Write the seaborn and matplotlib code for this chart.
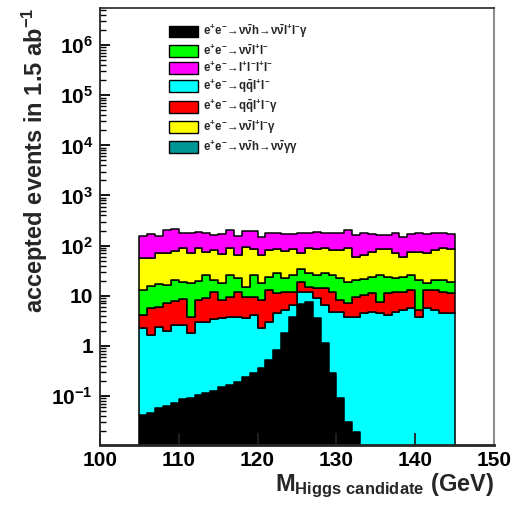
import numpy as np
import pandas as pd
import matplotlib
matplotlib.use("Agg")
import matplotlib.pyplot as plt
import seaborn as sns
from matplotlib.patches import Patch
from matplotlib.ticker import LogLocator, NullFormatter, FixedLocator, FixedFormatter

# ---------------- data (events per 1 GeV bin, 105-145 GeV) ----------------
mass_lo, mass_hi, n_bins = 105, 145, 40

signal_llg = [0.042, 0.046, 0.057, 0.063, 0.072, 0.087, 0.092, 0.105, 0.116, 0.127,
              0.153, 0.166, 0.193, 0.242, 0.291, 0.357, 0.522, 0.826, 1.78, 3.81,
              6.83, 7.49, 3.59, 1.14, 0.287, 0.091, 0.030, 0.019, 0, 0,
              0, 0, 0, 0, 0, 0, 0, 0, 0, 0]
qqll = [2.20, 1.59, 2.35, 1.94, 2.53, 2.51, 1.74, 2.93, 2.91, 3.25,
        3.39, 3.64, 3.52, 3.30, 3.83, 1.88, 2.51, 3.63, 3.41, 2.7,
        5.17, 4.51, 5.29, 5.39, 4.51, 4.71, 3.78, 3.79, 4.46, 4.80,
        4.46, 4.12, 4.80, 5.19, 5.61, 3.81, 5.61, 5.19, 4.46, 4.46]
qqllg = [1.88, 3.97, 3.46, 5.06, 5.24, 5.88, 1.98, 5.18, 5.85, 8.62,
         4.67, 5.48, 8.29, 5.75, 5.43, 5.97, 9.97, 6.74, 6.81, 5.5,
         7.0, 3.1, 5.12, 7.47, 7.2, 3.41, 3.25, 5.74, 5.84, 6.4,
         3.13, 7.08, 7.2, 6.81, 7.39, 1.38, 7.39, 7.81, 7.54, 6.74]
vvll = [8.9, 10.0, 11.2, 9.2, 12.8, 10.5, 14.4, 11.7, 17.0, 8.6,
        9.5, 16.6, 10.2, 5.8, 16.4, 9.5, 10.9, 16.8, 10.2, 13.9,
        14.6, 12.9, 11.9, 14.7, 13.9, 14.0, 11.9, 11.1, 10.9, 12.7,
        18.3, 12.7, 10.2, 11.9, 12.9, 15.4, 4.7, 7.6, 8.6, 7.8]
vvllg = [42.7, 40.1, 53.0, 53.8, 57.3, 71.7, 53.8, 68.3, 49.5, 60.9,
         50.2, 62.3, 42.6, 79.8, 58.3, 47.1, 57.6, 56.2, 56.8, 58.3,
         36.5, 60.2, 58.3, 59.5, 55.6, 59.3, 69.2, 39.4, 43.6, 51.5,
         58.3, 60.3, 47.9, 36.1, 49.5, 54.8, 52.4, 60.9, 67.6, 65.2]
llll = [99, 114, 85, 134, 133, 90, 109, 98, 101, 84,
        102, 116, 90, 103, 109, 85, 100, 92, 91, 86,
        106, 93, 105, 93, 95, 95, 116, 102, 116, 95,
        78, 78, 106, 90, 95, 101, 100, 100, 88, 86]
signal_gg = [0] * 40

# legend order (as in the reference)
processes = ["signal_llg", "vvll", "llll", "qqll", "qqllg", "vvllg", "signal_gg"]
labels = [
    r"$e^{+}e^{-}\!\rightarrow\!\nu\bar{\nu}h\!\rightarrow\!\nu\bar{\nu}l^{+}l^{-}\gamma$",
    r"$e^{+}e^{-}\!\rightarrow\!\nu\bar{\nu}l^{+}l^{-}$",
    r"$e^{+}e^{-}\!\rightarrow\!l^{+}l^{-}l^{+}l^{-}$",
    r"$e^{+}e^{-}\!\rightarrow\!q\bar{q}l^{+}l^{-}$",
    r"$e^{+}e^{-}\!\rightarrow\!q\bar{q}l^{+}l^{-}\gamma$",
    r"$e^{+}e^{-}\!\rightarrow\!\nu\bar{\nu}l^{+}l^{-}\gamma$",
    r"$e^{+}e^{-}\!\rightarrow\!\nu\bar{\nu}h\!\rightarrow\!\nu\bar{\nu}\gamma\gamma$",
]
colors = {"signal_llg": "#000000", "vvll": "#00ff00", "llll": "#ff00ff",
          "qqll": "#00ffff", "qqllg": "#ff0000", "vvllg": "#ffff00",
          "signal_gg": "#009696"}
values = {"signal_llg": signal_llg, "vvll": vvll, "llll": llll, "qqll": qqll,
          "qqllg": qqllg, "vvllg": vvllg, "signal_gg": signal_gg}
# seaborn stacks the last hue level at the bottom
stack_order = ["llll", "vvllg", "vvll", "qqllg", "qqll", "signal_llg", "signal_gg"]

x_ticks = [100, 110, 120, 130, 140, 150]
x_ticklabels = ["100", "110", "120", "130", "140", "150"]
y_ticks = [1e-1, 1, 10, 1e2, 1e3, 1e4, 1e5, 1e6]
y_ticklabels = [r"10$^{-1}$", "1", "10", r"10$^{2}$", r"10$^{3}$",
                r"10$^{4}$", r"10$^{5}$", r"10$^{6}$"]

# ---------------- style ----------------
sns.set_style("ticks")
plt.rcParams.update({
    "font.family": ["Liberation Sans", "DejaVu Sans"],
    "font.weight": "bold",
    "axes.labelweight": "bold",
    "axes.axisbelow": False,
    "mathtext.fontset": "custom",
    "mathtext.rm": "Liberation Sans:bold",
    "mathtext.bf": "Liberation Sans:bold",
    "mathtext.it": "Liberation Sans:bold",
    "mathtext.sf": "Liberation Sans:bold",
    "mathtext.default": "bf",
    "xtick.direction": "in", "ytick.direction": "in",
    "xtick.top": False, "ytick.right": False,
    "xtick.bottom": True, "ytick.left": True,
    "xtick.major.size": 9, "xtick.major.width": 1.3,
    "ytick.major.size": 7.5, "ytick.major.width": 1.3,
    "ytick.minor.size": 4, "ytick.minor.width": 1.0,
    "xtick.color": "#222222", "ytick.color": "black",
    "xtick.labelcolor": "black", "ytick.labelcolor": "black",
    "xtick.labelsize": 15, "ytick.labelsize": 15,
    "xtick.major.pad": 4, "ytick.major.pad": 5,
})

centers = np.arange(mass_lo, mass_hi) + 0.5
rows = []
for p in stack_order:
    for c, v in zip(centers, values[p]):
        rows.append({"mass": c, "events": v, "process": p})
df = pd.DataFrame(rows)

fig = plt.figure(figsize=(5.15, 5.05), dpi=100)
ax = fig.add_axes([0.1942, 0.1188, 0.765, 0.8653])

sns.histplot(data=df, x="mass", weights="events", hue="process",
             hue_order=stack_order, palette=colors, multiple="stack",
             element="step", bins=n_bins, binrange=(mass_lo, mass_hi),
             edgecolor="black", linewidth=1.1, alpha=1, legend=False,
             zorder=0.8, ax=ax)

ax.set_yscale("log")
ax.set_xlim(100, 150)
ax.set_ylim(0.0105, 5.5e6)

ax.xaxis.set_major_locator(FixedLocator(x_ticks))
ax.xaxis.set_major_formatter(FixedFormatter(x_ticklabels))
ax.yaxis.set_major_locator(FixedLocator(y_ticks))
ax.yaxis.set_major_formatter(FixedFormatter(y_ticklabels))
ax.yaxis.set_minor_locator(LogLocator(base=10, subs=np.arange(2, 10) * 1.0, numticks=30))
ax.yaxis.set_minor_formatter(NullFormatter())

ax.spines["left"].set_linewidth(1.3)
ax.spines["top"].set_linewidth(1.2)
ax.spines["bottom"].set_linewidth(2.0)
ax.spines["right"].set_linewidth(1.5)
ax.spines["right"].set_color("#8c8c8c")

ax.set_ylabel(r"accepted events in 1.5 ab$^{-1}$", fontsize=17, loc="top")
ax.yaxis.set_label_coords(-0.127, 1.0)
ax.set_xlabel(r"M$_{\mathrm{Higgs\ candidate}}$ (GeV)", fontsize=17, loc="right")
ax.xaxis.set_label_coords(1.0, -0.06)

handles = [Patch(facecolor=colors[p], edgecolor="black", linewidth=1.0) for p in processes]
leg = ax.legend(handles, labels, loc="upper left", bbox_to_anchor=(0.175, 0.966),
                frameon=False, fontsize=8.3, handlelength=2.5, handleheight=1.22,
                handletextpad=0.45, labelspacing=0.24, borderpad=0, borderaxespad=0)
leg.set_zorder(20)

ax.set_axisbelow(False)
ax.tick_params(axis="x", which="major", direction="in", length=9, width=1.3,
               color="#222222", bottom=True, top=False)
ax.tick_params(axis="x", which="minor", bottom=False, top=False)
ax.tick_params(axis="y", which="major", direction="in", length=7.5, width=1.3,
               color="black", left=True, right=False)
ax.tick_params(axis="y", which="minor", direction="in", length=4, width=1.0,
               color="black", left=True, right=False)
ax.xaxis.set_zorder(10)
ax.yaxis.set_zorder(10)
for s in ax.spines.values():
    s.set_zorder(11)

fig.savefig("out.png", dpi=100)
